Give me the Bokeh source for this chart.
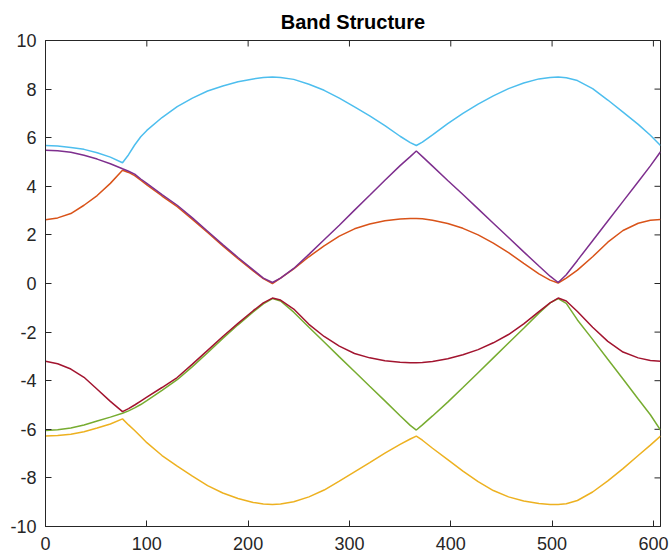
import math
from bokeh.plotting import figure
from bokeh.models import LinearAxis, FixedTicker, Range1d
from bokeh.embed import file_html
from bokeh.resources import INLINE

# k-path sample positions
k = [0, 12, 25, 38, 51, 64, 76,
     82, 88, 94, 100, 115, 130, 145, 160, 175, 190, 205, 215, 224,
     232, 245, 260, 275, 290, 305, 320, 335, 350, 360, 366,
     372, 382, 397, 412, 427, 442, 457, 472, 487, 498, 506,
     514, 525, 540, 555, 570, 585, 597, 607]

band_cyan = [5.68, 5.66, 5.60, 5.52, 5.38, 5.20, 4.97,
             5.30, 5.70, 6.04, 6.30, 6.83, 7.28, 7.63, 7.92, 8.13, 8.30, 8.42, 8.48, 8.50,
             8.48, 8.40, 8.20, 7.95, 7.63, 7.27, 6.90, 6.50, 6.06, 5.80, 5.68,
             5.82, 6.12, 6.58, 7.00, 7.38, 7.72, 8.02, 8.25, 8.42, 8.48, 8.50,
             8.47, 8.35, 8.02, 7.55, 7.05, 6.55, 6.10, 5.68]

band_purple = [5.48, 5.46, 5.40, 5.28, 5.12, 4.93, 4.72,
               4.62, 4.50, 4.30, 4.12, 3.66, 3.22, 2.70, 2.15, 1.60, 1.07, 0.56, 0.22, 0.04,
               0.22, 0.62, 1.20, 1.80, 2.40, 3.02, 3.63, 4.25, 4.85, 5.22, 5.45,
               5.22, 4.83, 4.24, 3.66, 3.07, 2.48, 1.89, 1.30, 0.72, 0.30, 0.04,
               0.36, 0.95, 1.76, 2.57, 3.38, 4.19, 4.84, 5.42]

band_orange = [2.62, 2.70, 2.88, 3.22, 3.62, 4.12, 4.66,
               4.57, 4.44, 4.25, 4.06, 3.60, 3.16, 2.64, 2.10, 1.55, 1.02, 0.52, 0.20, 0.00,
               0.22, 0.60, 1.10, 1.55, 1.95, 2.25, 2.45, 2.58, 2.65, 2.67, 2.67,
               2.66, 2.60, 2.47, 2.27, 2.00, 1.66, 1.27, 0.83, 0.40, 0.14, 0.02,
               0.22, 0.55, 1.10, 1.70, 2.18, 2.48, 2.60, 2.63]

band_red = [-3.20, -3.30, -3.52, -3.86, -4.35, -4.85, -5.27,
            -5.15, -5.00, -4.84, -4.68, -4.28, -3.87, -3.32, -2.75, -2.18, -1.64, -1.12, -0.80, -0.60,
            -0.68, -1.05, -1.68, -2.18, -2.58, -2.88, -3.06, -3.18, -3.24, -3.26, -3.26,
            -3.25, -3.21, -3.10, -2.93, -2.72, -2.44, -2.10, -1.66, -1.16, -0.80, -0.60,
            -0.72, -1.15, -1.80, -2.38, -2.82, -3.06, -3.17, -3.20]

band_green = [-6.05, -6.02, -5.95, -5.82, -5.66, -5.50, -5.34,
              -5.24, -5.12, -4.98, -4.82, -4.40, -3.96, -3.42, -2.85, -2.26, -1.70, -1.17, -0.84, -0.62,
              -0.72, -1.18, -1.80, -2.41, -3.02, -3.62, -4.23, -4.83, -5.44, -5.84, -6.03,
              -5.82, -5.45, -4.88, -4.28, -3.67, -3.06, -2.45, -1.84, -1.22, -0.80, -0.62,
              -0.82, -1.50, -2.30, -3.12, -3.93, -4.75, -5.40, -6.03]

band_yellow = [-6.28, -6.26, -6.20, -6.10, -5.95, -5.78, -5.57,
               -5.82, -6.05, -6.30, -6.55, -7.08, -7.52, -7.93, -8.32, -8.62, -8.85, -9.01, -9.07, -9.09,
               -9.07, -8.98, -8.78, -8.50, -8.13, -7.75, -7.37, -6.98, -6.62, -6.40, -6.28,
               -6.45, -6.78, -7.25, -7.72, -8.15, -8.52, -8.78, -8.95, -9.05, -9.09, -9.09,
               -9.06, -8.93, -8.58, -8.12, -7.62, -7.08, -6.65, -6.28]

x_ticks = [0, 100, 200, 300, 400, 500, 600]
y_ticks = [-10, -8, -6, -4, -2, 0, 2, 4, 6, 8, 10]
x_min, x_max = 0, 607
y_min, y_max = -10, 10

AX = "#262626"
FONT = "Liberation Sans"

p = figure(width=671, height=558, output_backend="svg", toolbar_location=None,
           x_range=Range1d(x_min, x_max), y_range=Range1d(y_min, y_max),
           min_border_left=45, min_border_right=11, min_border_top=40, min_border_bottom=32,
           title="Band Structure", x_axis_type=None, y_axis_type=None)
p.title.align = "center"
p.title.text_font = FONT
p.title.text_font_size = "20px"
p.title.text_font_style = "bold"
p.title.text_color = "#000000"
p.title.standoff = 15
p.outline_line_color = AX
p.outline_line_width = 1
p.xgrid.visible = False
p.ygrid.visible = False
p.background_fill_color = "white"
p.border_fill_color = "white"


def make_axis(ticks, standoff):
    ax = LinearAxis(ticker=FixedTicker(ticks=ticks))
    ax.axis_line_color = AX
    ax.axis_line_width = 1
    ax.major_tick_line_color = AX
    ax.major_tick_in = 6
    ax.major_tick_out = 0
    ax.minor_tick_line_color = None
    ax.major_label_text_font = FONT
    ax.major_label_text_color = AX
    ax.major_label_text_font_size = "18px"
    ax.major_label_standoff = standoff
    ax.major_label_overrides = {t: str(t) for t in ticks}
    return ax

p.add_layout(make_axis(x_ticks, 10), "below")
p.add_layout(make_axis(y_ticks, 9), "left")

# inward ticks on the top and right edges of the box
p.scatter(x_ticks, [y_max] * len(x_ticks), marker="dash", angle=math.pi / 2,
          size=12, line_color=AX, line_width=1)
p.scatter([x_max] * len(y_ticks), y_ticks, marker="dash", angle=0,
          size=12, line_color=AX, line_width=1)

lw = 1.5
p.line(k, band_orange, line_color="#D95319", line_width=lw)
p.line(k, band_yellow, line_color="#EDB120", line_width=lw)
p.line(k, band_purple, line_color="#7E2F8E", line_width=lw)
p.line(k, band_green, line_color="#77AC30", line_width=lw)
p.line(k, band_cyan, line_color="#4DBEEE", line_width=lw)
p.line(k, band_red, line_color="#A2142F", line_width=lw)

open("out.html", "w").write(file_html(p, INLINE))
